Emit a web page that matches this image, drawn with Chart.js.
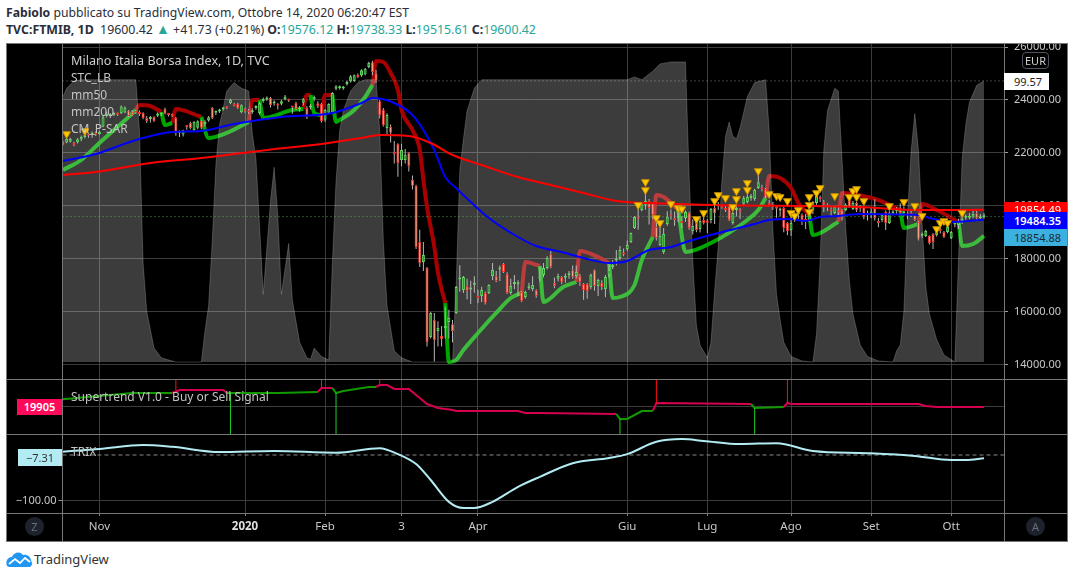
<!DOCTYPE html>
<html>
<head>
<meta charset="utf-8">
<title>FTMIB</title>
<script src="https://cdn.jsdelivr.net/npm/chart.js@4/dist/chart.umd.js"></script>
<style>
    body { margin: 0; background: #fff; width: 1073px; height: 577px; position: relative; overflow: hidden; font-family: "Noto Sans", sans-serif; }
    canvas { position: absolute; display: block; }
    .abs { position: absolute; white-space: nowrap; }
    .head { left: 6px; font-size: 12.2px; color: #2a2e39; line-height: 16px; }
    .head b { font-weight: 700; }
    .head i { font-style: normal; color: #26a69a; }
    .legend { left: 71px; color: #c4c4c4; font-size: 12px; line-height: 16px; z-index: 5; }
    .line { background: #787878; z-index: 4; }
    .tag { left: 1004px; height: 17px; line-height: 17px; font-size: 11px; text-align: left; padding-left: 10px; box-sizing: border-box; z-index: 5; }
    .badge { width: 19px; height: 19px; border-radius: 50%; background: #1e222d; color: #6a6d78; font-size: 11px; line-height: 19px; text-align: center; z-index: 5; }
</style>
</head>
<body>
<div class="abs head" style="top:5px"><b>Fabiolo</b> pubblicato su TradingView.com, Ottobre 14, 2020 06:20:47 EST</div>
<div class="abs head" style="top:21px;font-size:12.35px"><b>TVC:FTMIB, 1D</b>&nbsp; 19600.42 <i style="font-size:14px">▲</i> +41.73 (+0.21%) <b>O:</b><i>19576.12</i> <b>H:</b><i>19738.33</i> <b>L:</b><i>19515.61</i> <b>C:</b><i>19600.42</i></div>

<div class="abs" style="left:6px;top:43px;width:1061px;height:498px;background:#000"></div>
<canvas id="mainPane" width="1061" height="336" style="left:6px;top:43px"></canvas>
<canvas id="trendPane" width="1061" height="55" style="left:6px;top:379px"></canvas>
<canvas id="trixPane" width="1061" height="107" style="left:6px;top:434px"></canvas>

<div class="abs line" style="left:6px;top:43px;width:1061px;height:1px"></div>
<div class="abs line" style="left:6px;top:379px;width:1061px;height:1px"></div>
<div class="abs line" style="left:6px;top:434px;width:1061px;height:1px"></div>
<div class="abs line" style="left:6px;top:513px;width:1061px;height:1px"></div>
<div class="abs line" style="left:6px;top:541px;width:1061px;height:1px"></div>
<div class="abs line" style="left:6px;top:43px;width:1px;height:498px"></div>
<div class="abs line" style="left:62px;top:43px;width:1px;height:498px"></div>
<div class="abs line" style="left:1004px;top:43px;width:1px;height:498px"></div>
<div class="abs line" style="left:1067px;top:43px;width:1px;height:499px"></div>

<div class="abs legend" style="top:53px;color:#d0d0d0;font-size:12.6px">Milano Italia Borsa Index, 1D, TVC</div>
<div class="abs legend" style="top:70px">STC_LB</div>
<div class="abs legend" style="top:87px">mm50</div>
<div class="abs legend" style="top:104px">mm200</div>
<div class="abs legend" style="top:121px">CM_P-SAR</div>
<div class="abs legend" style="top:389px">Supertrend V1.0 - Buy or Sell Signal</div>
<div class="abs legend" style="top:444px">TRIX</div>

<div class="abs" style="left:1022px;top:52px;width:25px;height:15px;border:1px solid #50535e;border-radius:4px;background:#000;color:#d0d0d0;font-size:11px;line-height:15px;text-align:center;z-index:5">EUR</div>
<div class="abs tag" style="top:73px;width:45px;background:#fff;color:#222">99.57</div>
<div class="abs tag" style="top:202px;width:63px;height:11px;line-height:15px;overflow:hidden;background:#ff0000;color:#fff">19854.49</div>
<div class="abs tag" style="top:212px;width:63px;background:#0000ff;color:#fff;font-weight:600">19484.35</div>
<div class="abs tag" style="top:229px;width:63px;background:#3cb1e0;color:#1c2b33">18854.88</div>
<div class="abs" style="left:17px;top:399px;width:45px;height:16px;line-height:16px;background:#ff0a5a;color:#fff;font-size:11px;font-weight:600;text-align:center;z-index:5">19905</div>
<div class="abs" style="left:18px;top:449px;width:44px;height:17px;line-height:17px;background:#b2ebf2;color:#333;font-size:11px;text-align:center;z-index:5">−7.31</div>
<div class="abs badge" style="left:25px;top:517px">Z</div>
<div class="abs badge" style="left:1026px;top:517px">A</div>

<svg class="abs" style="left:6px;top:550px" width="27" height="18" viewBox="0 0 27 18">
    <path d="M1 16 C-1 11 2 7 6 7 C8 2 14 1 17 5 C21 4 25 7 25 11 C27 13 26 16 24 17 L3 17 Z" fill="#2196f3"/>
    <path d="M3 14 L9 9 L14 13 L19 8 L24 12" fill="none" stroke="#fff" stroke-width="1.7"/>
</svg>
<div class="abs" style="left:34px;top:551px;font-size:13px;line-height:17px;color:#333">TradingView</div>

<script>
const opens = [
    22420,22400,22420,22370,22410,22510,22600,22710,22690,22720,
    22720,23000,23400,23390,23440,23490,23500,23530,23590,23560,
    23560,23540,23510,23320,23280,23360,23410,23450,23670,23450,
    23430,23320,22750,22700,23040,23130,22870,22950,23210,23090,
    23230,23700,23520,23570,23650,23730,23890,23850,23860,23550,
    23660,23560,23540,23700,23510,23960,24020,24076,23870,23840,
    23860,24040,24010,23740,23887,23640,23900,23700,23720,24030,
    23880,23850,23250,23520,23520,24420,24440,24430,24600,24700,
    24720,24950,24920,24960,25250,25420,25010,23950,23620,22940,
    22980,22040,22340,21740,21740,22000,20980,20750,18640,17890,
    17660,15060,15700,15280,15100,15400,15620,15540,15960,17230,
    16830,16980,16850,17030,16590,16600,16720,16720,17360,17360,
    17600,17810,17430,16720,17060,17040,16750,16570,16900,16870,
    16830,17250,17400,17660,18190,17090,17250,17320,17290,17390,
    17580,17360,17360,17060,17060,16940,17580,16980,17100,16870,
    17400,17700,17940,18040,18210,18380,18640,19170,19590,19850,
    20050,20190,20110,19210,18530,18260,19320,19650,19530,19560,
    19430,19550,19740,19050,19400,19130,19470,19450,19470,19920,
    20000,19990,19920,20000,19360,19850,19870,20080,20150,20300,
    20260,20680,20680,20640,20110,19980,19950,19830,19920,19360,
    19090,19550,19700,19660,19500,19470,19850,20110,20340,20150,
    20040,19840,19740,19800,19850,19850,20300,19890,20110,19960,
    19960,19740,19700,19960,19430,19470,19770,19360,19720,19800,
    19920,19730,19690,19720,19660,19400,18880,18870,18870,18940,
    18900,19110,19020,19020,18790,19300,19280,19430,19560,19560,
    19600,19730,19540,19576.12
];
const closes = [
    22320,22530,22530,22300,22520,22600,22690,22660,22710,22700,
    22800,23350,23430,23420,23490,23440,23750,23700,23400,23430,
    23520,23470,23320,23210,23300,23210,23490,23480,23480,23430,
    23400,22760,22770,22850,22980,22940,23170,23200,22950,23180,
    23350,23320,23560,23620,23680,23700,24010,23780,23700,23800,
    23580,23540,23570,23750,23880,24030,24070,23812,23910,23790,
    23950,24130,23970,23720,23661,23680,24030,23360,23790,24120,
    23760,23208,23620,23850,24260,24520,24500,24480,24680,24900,
    24930,24870,25120,25180,25400,25060,24730,23430,23060,23430,
    22760,21960,21620,22110,21930,21510,20760,18450,17850,18150,
    14870,15960,14940,15400,14980,15460,15770,15280,16940,17260,
    17320,16790,16900,17080,16530,16830,16340,17020,17590,17170,
    17660,17510,16720,16980,17130,17120,16410,16750,16950,17020,
    16600,17350,17660,18040,17700,16980,17360,17130,17310,17450,
    17320,17510,17130,16830,16790,17400,16980,17210,16940,17320,
    17590,17780,18000,18340,18170,18530,18980,19585,19500,20110,
    20190,19925,19660,18790,18870,18940,19590,19600,19470,19620,
    19360,19770,19170,19250,19090,19430,19360,19370,19890,19730,
    20060,19930,19850,19470,19740,19870,19770,20300,20340,20350,
    20600,20900,20620,20415,20040,20040,19900,19860,19170,19060,
    19360,19600,19760,19470,19440,19660,20150,20410,20260,20070,
    19980,19800,19960,19760,19620,20040,19960,20110,19850,19900,
    19590,19660,19790,19550,19360,19660,19360,19740,19790,19880,
    19740,19800,19640,19660,19470,18760,18940,19060,18600,18640,
    19130,19060,18830,19210,19020,19340,19400,19490,19620,19600,
    19700,19550,19560,19600.42
];
const highs = [
    22450,22560,22580,22420,22560,22660,22740,22760,22810,22810,
    22830,23400,23560,23500,23540,23530,23790,23760,23620,23620,
    23620,23600,23540,23400,23400,23390,23530,23520,23710,23500,
    23490,23360,22850,22880,23060,23180,23200,23240,23250,23240,
    23400,23740,23600,23670,23720,23750,24050,23900,23900,23840,
    23710,23660,23690,23800,23920,24090,24130,24110,23990,23880,
    24010,24190,24050,23770,23930,23770,24080,23760,23850,24170,
    23950,23890,23660,23880,24300,24560,24550,24530,24730,24940,
    24960,25000,25160,25210,25440,25480,25130,24000,23700,23500,
    23080,22450,22370,22350,22150,22030,21150,20800,19100,18640,
    17700,16000,15960,15650,15470,16200,16080,15700,16980,17760,
    17360,17250,17180,17350,16840,16950,16770,17050,17850,17550,
    17750,17850,17500,17250,17400,17200,16790,16800,17100,17350,
    16860,17700,17850,18100,18300,17300,17450,17360,17450,17550,
    17750,17750,17430,17090,17090,17450,17600,17250,17200,17400,
    17800,17960,18340,18490,18400,18700,19000,19620,19960,20150,
    20640,20260,20150,19450,19300,19170,19800,19870,19790,19830,
    19620,19830,19780,19500,19470,19620,19600,19510,19920,20000,
    20150,20060,20040,20050,19780,19990,19920,20380,20420,20450,
    20650,21250,20800,20680,20230,20150,20030,19940,19960,19400,
    19650,19770,19810,19720,19700,19800,20190,20450,20400,20230,
    20100,20000,20000,20000,19890,20100,20340,20190,20150,20040,
    20000,19830,19960,20250,19550,19720,19830,19800,19900,19960,
    20100,19960,19790,19820,19700,19430,19000,19100,18900,18980,
    19170,19200,19060,19250,19060,19430,19520,19580,19680,19740,
    19810,19850,19700,19738.33
];
const lows = [
    22290,22370,22400,22250,22360,22440,22560,22580,22580,22640,
    22690,22970,23340,23320,23400,23400,23470,23500,23360,23400,
    23470,23400,23270,23130,23150,23170,23360,23400,23450,23380,
    23360,22650,22600,22620,22880,22900,22840,22900,22900,23000,
    23180,23280,23430,23510,23600,23660,23840,23750,23660,23500,
    23520,23470,23480,23630,23440,23900,23970,23720,23780,23640,
    23800,23990,23920,23480,23620,23560,23790,23280,23640,23950,
    23700,23150,23170,23470,23480,24370,24400,24390,24550,24660,
    24680,24830,24880,24930,25200,24930,24640,23300,23000,22700,
    22400,21600,21100,21500,21600,21300,20620,18380,17700,17550,
    14700,15000,14130,14700,14700,15000,15000,14850,15920,16760,
    16720,16480,16300,16730,16340,16380,16280,16680,17210,17120,
    17170,17470,16680,16650,16860,16600,16380,16500,16830,16780,
    16540,17150,17300,17600,17650,16900,17150,17050,17100,17250,
    17250,17270,16980,16460,16500,16860,16800,16600,16830,16560,
    17300,17620,17750,17960,18100,18300,18600,19130,19100,19800,
    19870,19300,19500,18700,18490,18190,19250,19480,19250,19400,
    19170,19400,19100,18920,19010,19000,19300,18980,19350,19320,
    19850,19900,19770,19430,19300,19600,19510,20000,20100,20200,
    20200,20640,20550,20300,19960,19850,19560,19600,19010,18900,
    18870,19400,19500,19280,19130,19400,19700,20050,20150,19770,
    19800,19600,19700,19600,19450,19800,19930,19850,19770,19770,
    19500,19450,19550,19450,19200,19400,19090,19320,19650,19700,
    19680,19600,19500,19580,19430,18700,18800,18830,18550,18380,
    18850,18960,18790,18970,18750,19200,19130,19320,19480,19500,
    19550,19480,19480,19515.61
];

// [bar, value] readings
const mm50 = [[0,21698],[9,21962],[20,22491],[30,22793],[38,22830],[47,23095],[60,23359],[74,23510],[82,23887],[85,24076],[91,23887],[96,23434],[99,22868],[102,22113],[105,21094],[108,20679],[117,19547],[125,18830],[130,18491],[137,18264],[143,18038],[150,17849],[155,17924],[161,18340],[167,18453],[172,18679],[180,18981],[190,19321],[194,19472],[199,19509],[204,19434],[208,19585],[213,19623],[219,19698],[235,19660],[238,19547],[245,19396],[253,19484]];
const mm200 = [[0,21170],[9,21283],[24,21623],[38,21811],[56,22113],[71,22340],[82,22566],[87,22680],[95,22642],[101,22378],[107,21925],[115,21547],[125,21094],[134,20792],[143,20491],[152,20189],[161,20113],[178,20038],[219,19962],[235,19849],[253,19854]];
const stc = [[0,94],[1,97],[3,99.5],[5,100],[20,100],[21,82],[22,35],[23,18],[25,5],[27,1.5],[31,0],[38,0],[39,11],[40,20],[41,43],[42,70],[43,84],[45,96],[47,99],[49,97],[51,96],[52,81],[53,72],[55,24],[57,57],[58,69],[59,52],[60,24],[62,42],[63,22],[65,7],[67,1.5],[68,1],[69,5],[71,2],[73,0.7],[74,35],[75,64],[76,82],[77,89],[79,96],[81,99],[83,100],[86,100],[87,82],[88,43],[89,20],[91,4],[93,1.5],[96,0],[107,0],[108,27],[109,68],[110,79],[111,89],[113,97],[115,100],[155,100],[157,101],[159,100],[161,102],[162,103],[164,105.6],[167,106.3],[171,106.3],[172,66],[173,36],[174,13],[175,6],[177,1.5],[178,7],[179,25],[180,41],[181,64],[182,80],[183,85],[184,80],[185,79],[186,83],[188,94],[190,99],[193,100],[194,82],[195,47],[196,24],[197,15],[198,7],[200,2],[203,0.4],[206,0],[207,10],[208,36],[209,75],[210,89],[212,97],[213,96],[214,72],[215,48],[216,29],[217,17],[219,6],[221,2],[224,0.4],[228,0],[229,4],[230,6],[231,18],[232,52],[233,75],[234,88],[235,75],[236,49],[237,27],[238,17],[240,8],[242,2.5],[245,0],[246,36],[247,72],[248,84],[249,92],[251,98],[253,99.57]];
const sarUpLegs = [
    [[0,21359],[5,21736],[10,22378],[14,22868],[18,23359],[20,23623]],
    [[27,23548],[28,23057],[30,23132]],
    [[38,23359],[40,22566],[45,22755],[51,23170]],
    [[54,24000],[55,23321],[63,23623],[66,23661]],
    [[68,24189],[69,23510],[71,23434]],
    [[74,24189],[75,23170],[76,23245],[80,23623],[83,24113],[85,24566]],
    [[105,16339],[106,14113],[108,14189],[110,14566],[114,15207],[119,15962],[123,16528],[126,16717]],
    [[131,17736],[132,16377],[134,16528],[137,16906],[141,17132]],
    [[150,17849],[151,16528],[153,16566],[157,17019],[159,17962],[162,18830]],
    [[169,19849],[171,18264],[178,18604],[188,19472],[191,19849],[193,20302]],
    [[205,19660],[206,18906],[213,19396]],
    [[230,19849],[231,19170],[235,19321]],
    [[246,19396],[247,18490],[250,18566],[253,18868]]
];
const sarDownLegs = [
    [[20,23623],[21,23812],[24,23774],[27,23548]],
    [[30,23132],[31,23661],[38,23359]],
    [[51,23170],[52,24000],[54,24000]],
    [[66,23661],[67,24189],[68,24189]],
    [[71,23434],[72,24189],[74,24189]],
    [[85,24566],[86,25472],[88,25434],[90,25019],[92,24378],[93,23623],[96,22868],[98,22113],[99,20981],[100,19962],[102,18453],[103,17472],[105,16339]],
    [[126,16717],[127,17887],[131,17736]],
    [[141,17132],[142,18302],[147,18075],[150,17849]],
    [[162,18830],[163,20415],[165,20340],[169,19849]],
    [[193,20302],[194,21132],[197,21057],[200,20679],[202,20113],[205,19660]],
    [[213,19396],[214,20491],[221,20340],[224,20226],[230,19849]],
    [[235,19321],[236,20075],[240,19849],[246,19396]]
];
const sarMarkers = [[1,22717],[6,22830],[158,20038],[160,20906],[160,20604],[163,19547],[164,19358],[167,20075],[169,19925],[170,19887],[174,19509],[176,19736],[179,20189],[180,20415],[182,20302],[184,19962],[185,20566],[185,20264],[188,20868],[188,20604],[191,21321],[194,20453],[196,20377],[197,20340],[199,20189],[200,19736],[201,19623],[202,19849],[205,20340],[205,20038],[205,19774],[207,20491],[208,20679],[212,20377],[216,20340],[217,20566],[218,20642],[218,20340],[220,20189],[227,20000],[231,20151],[234,20000],[236,19623],[240,19132],[241,19358],[242,19434],[243,19358],[247,19736]];

const trendUpLegs = [
    [[0,21400],[19,22635],[30,22635]],
    [[45,22635],[59,22635],[70,22830]],
    [[74,23610],[75,22635],[77,23025],[84,23805],[86,23805]],
    [[152,18540],[153,17565],[155,17565],[159,19125],[162,19125]],
    [[189,20490],[190,19710],[198,19905]]
];
const trendDownLegs = [
    [[30,22635],[32,23220],[44,23220],[45,22635]],
    [[70,22830],[71,23610],[74,23610]],
    [[86,23805],[87,24195],[89,24195],[91,23415],[95,23415],[100,20490],[103,19710],[107,19320],[108,19125],[125,19125],[127,18735],[131,18735],[152,18540]],
    [[162,19125],[163,20685],[189,20490]],
    [[198,19905],[199,20685],[200,20490],[235,20490],[237,20100],[240,19905],[253,19905]]
];
const sellBars = [31, 71, 87, 163, 199];
const sellLevels = [23220, 23610, 24195, 20685, 20685];
const buyBars = [46, 75, 153, 190];
const buyLevels = [22635, 22635, 17565, 19710];
const trix = [[0,7.3],[10,13],[22,22],[30,18],[43,6.6],[58,8.8],[75,5],[87,15],[92,2],[97,-20],[101,-55],[106,-103],[110,-116.5],[113,-116.5],[118,-103],[125,-70],[131,-48],[140,-18],[150,-6.6],[155,2],[163,29],[170,35],[176,31],[186,24],[196,26],[206,9],[221,4],[234,-2],[244,-11],[248,-11],[253,-7.31]];

const tickBars = [10, 50, 72, 93, 114, 155, 177, 200, 222, 244];
const tickLabels = ["Nov", "2020", "Feb", "3", "Apr", "Giu", "Lug", "Ago", "Set", "Ott"];
const priceTicks = [14000, 16000, 18000, 20000, 22000, 24000, 26000];
const lastClose = 19600.42;
const lastStc = 99.57;
const trendLevel = 19905;
const trixTick = -100;

const xMin = -0.14;
const xMax = 258.5;
const trendMin = 14640;
const trendMax = 25365;
const gridColor = "#3c3c3c";
const textColor = "#c8c8c8";

Chart.defaults.font.family = '"Noto Sans", sans-serif';
Chart.defaults.font.size = 11;
Chart.defaults.animation = false;
Chart.defaults.plugins.legend.display = false;
Chart.defaults.plugins.tooltip.enabled = false;
Chart.defaults.layout.autoPadding = false;

const toPoints = rows => rows.map(([x, y]) => ({ x, y }));

function lineSet(rows, color, width, order, yAxisID) {
    return {
        type: "line",
        data: toPoints(rows),
        borderColor: color,
        borderWidth: width,
        pointRadius: 0,
        fill: false,
        order: order,
        yAxisID: yAxisID || "y",
    };
}

function barSet(data, thickness, colors, borders, borderWidth, order, minLength) {
    return {
        type: "bar",
        data: data,
        barThickness: thickness,
        grouped: false,
        backgroundColor: colors,
        borderColor: borders,
        borderWidth: borderWidth,
        borderSkipped: false,
        inflateAmount: 0,
        minBarLength: minLength,
        order: order,
    };
}

function noPad(scale) {
    scale.paddingTop = 0;
    scale.paddingBottom = 0;
    scale.paddingLeft = 0;
    scale.paddingRight = 0;
}

function xAxis(showLabels) {
    return {
        type: "linear",
        min: xMin,
        max: xMax,
        offset: false,
        grid: { offset: false, color: gridColor, drawTicks: showLabels, tickLength: 3, tickColor: "#888" },
        border: { display: false },
        ticks: {
            display: showLabels,
            autoSkip: false,
            maxRotation: 0,
            padding: 4,
            color: ctx => ctx.tick && ctx.tick.value === 50 ? "#e0e0e0" : textColor,
            font: ctx => ({ size: 11.5, weight: ctx.tick && ctx.tick.value === 50 ? "700" : "400" }),
            callback: value => tickLabels[tickBars.indexOf(value)],
        },
        afterBuildTicks: scale => { scale.ticks = tickBars.map(value => ({ value })); },
        afterFit: scale => {
            noPad(scale);
            scale.height = showLabels ? 28 : 0;
        },
    };
}

const wicks = lows.map((low, i) => ({ x: i, y: [low, highs[i]] }));
const bodies = opens.map((open, i) => ({ x: i, y: [open, closes[i]] }));
const bodyFill = opens.map((open, i) => closes[i] >= open ? "#1c961c" : "#ffa27f");
const bodyEdge = opens.map((open, i) => closes[i] >= open ? "#62d862" : "#f2322c");

new Chart(document.getElementById("mainPane"), {
    type: "line",
    data: {
        datasets: [
            ...sarUpLegs.map(leg => ({ ...lineSet(leg, "#00a600", 4, 9), cubicInterpolationMode: "monotone" })),
            ...sarDownLegs.map(leg => ({ ...lineSet(leg, "#a80000", 4, 9), cubicInterpolationMode: "monotone" })),
            {
                ...lineSet(stc, "rgba(255,255,255,0.2)", 1, 8, "stc"),
                fill: { value: 0 },
                backgroundColor: "rgba(255,255,255,0.235)",
            },
            { ...lineSet([[xMin, lastStc], [xMax, lastStc]], "rgba(210,210,210,0.6)", 1, 7, "stc"), borderDash: [1, 3] },
            { ...lineSet([[xMin, lastClose], [xMax, lastClose]], "rgba(90,200,110,0.8)", 1, 7), borderDash: [1, 3] },
            barSet(wicks, 1, "#b9b9b9", "#b9b9b9", 0, 6, 1),
            barSet(bodies, 3, bodyFill, bodyEdge, 1, 5, 2),
            { ...lineSet(mm200, "#ff0000", 2, 3), cubicInterpolationMode: "monotone" },
            { ...lineSet(mm50, "#0000ff", 2, 3), cubicInterpolationMode: "monotone" },
            {
                type: "line",
                data: toPoints(sarMarkers),
                showLine: false,
                pointStyle: "triangle",
                pointRotation: 180,
                pointRadius: 4.5,
                pointBackgroundColor: "#ffc800",
                pointBorderColor: "#c98f00",
                pointBorderWidth: 1,
                order: 1,
            },
        ],
    },
    options: {
        responsive: false,
        events: [],
        layout: { padding: { left: 56.5 } },
        scales: {
            x: xAxis(false),
            y: {
                position: "right",
                min: 13471,
                max: 26151,
                beginAtZero: false,
                grid: { color: gridColor, tickLength: 4, tickColor: "#999" },
                border: { display: false },
                ticks: {
                    color: textColor,
                    padding: 6,
                    font: { size: 11 },
                    callback: value => value.toFixed(2),
                },
                afterBuildTicks: scale => { scale.ticks = priceTicks.map(value => ({ value })); },
                afterFit: scale => {
                    noPad(scale);
                    scale.width = 63;
                },
            },
            stc: { display: false, min: -6, max: 113 },
        },
    },
});

new Chart(document.getElementById("trendPane"), {
    type: "line",
    data: {
        datasets: [
            ...trendUpLegs.map(leg => lineSet(leg, "#109a00", 2, 5)),
            ...trendDownLegs.map(leg => lineSet(leg, "#d5004f", 2, 5)),
            barSet(sellBars.map((x, i) => ({ x, y: [sellLevels[i], trendMax] })), 1, "#ff1010", "#ff1010", 0, 4, 1),
            barSet(buyBars.map((x, i) => ({ x, y: [trendMin, buyLevels[i]] })), 1, "#20d020", "#20d020", 0, 4, 1),
        ],
    },
    options: {
        responsive: false,
        events: [],
        layout: { padding: { right: 63 } },
        scales: {
            x: xAxis(false),
            y: {
                position: "left",
                min: trendMin,
                max: trendMax,
                beginAtZero: false,
                grid: { color: gridColor, drawTicks: false },
                border: { display: false },
                ticks: { display: false },
                afterBuildTicks: scale => { scale.ticks = [{ value: trendLevel }]; },
                afterFit: scale => {
                    noPad(scale);
                    scale.width = 56.5;
                },
            },
        },
    },
});

new Chart(document.getElementById("trixPane"), {
    type: "line",
    data: {
        datasets: [
            { ...lineSet([[xMin, 0], [xMax, 0]], "#8a8a8a", 1, 6), borderDash: [4, 3] },
            { ...lineSet(trix, "#b2ebf2", 2, 3), cubicInterpolationMode: "monotone" },
        ],
    },
    options: {
        responsive: false,
        events: [],
        layout: { padding: { right: 63 } },
        scales: {
            x: xAxis(true),
            y: {
                position: "left",
                min: -127.5,
                max: 46.15,
                beginAtZero: false,
                grid: { color: gridColor, tickLength: 4, tickColor: "#999" },
                border: { display: false },
                ticks: {
                    color: textColor,
                    padding: 2,
                    font: { size: 11 },
                    callback: value => "\u2212" + Math.abs(value).toFixed(2),
                },
                afterBuildTicks: scale => { scale.ticks = [{ value: trixTick }]; },
                afterFit: scale => {
                    noPad(scale);
                    scale.width = 56.5;
                },
            },
        },
    },
});
</script>
</body>
</html>
